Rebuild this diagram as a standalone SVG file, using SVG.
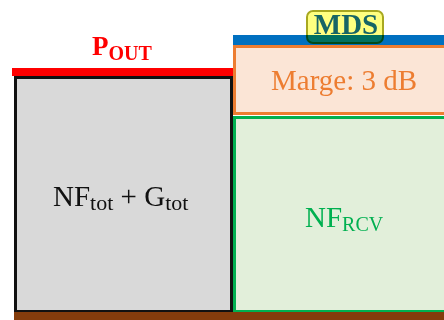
<svg xmlns="http://www.w3.org/2000/svg" width="444" height="320" viewBox="0 0 444 320">
<style>
.bar{stroke:none;}
.hl{mix-blend-mode:multiply;}
</style>
<rect width="444" height="320" fill="#ffffff"/>
<g font-family="Liberation Serif">
<g id="pout">
<rect class="bar" x="12" y="68" width="222" height="8" fill="#FF0000"/>
<text x="92" y="55" fill="#FF0000" font-size="27" font-weight="bold">P<tspan font-size="20" dy="5">OUT</tspan></text>
</g>
<g id="chain">
<rect x="15.5" y="77.5" width="216" height="234" fill="#D9D9D9" stroke="#111111" stroke-width="3"/>
<text x="53" y="206" fill="#111111" font-size="29">NF<tspan font-size="22" dy="4">tot</tspan><tspan dy="-4"> + G</tspan><tspan font-size="22" dy="4">tot</tspan></text>
</g>
<g id="mds">
<rect class="bar" x="233" y="35" width="211" height="10" fill="#0070C0"/>
<rect class="hl" x="307" y="11" width="76" height="32" rx="6" fill="#FFFF80" stroke="#A8A820" stroke-width="2"/>
<text x="346" y="34" text-anchor="middle" fill="#176565" font-size="29" font-weight="bold">MDS</text>
</g>
<g id="marge">
<rect x="234.5" y="46.5" width="212" height="67" fill="#FBE5D6" stroke="#ED7D31" stroke-width="3"/>
<text x="344" y="90" text-anchor="middle" fill="#ED7D31" font-size="29">Marge: 3 dB</text>
</g>
<g id="rcv">
<rect x="234.5" y="117.5" width="212" height="194" fill="#E2EFDA" stroke="#00B050" stroke-width="3"/>
<text x="305" y="227" fill="#00B050" font-size="29">NF<tspan font-size="20" dy="4">RCV</tspan></text>
</g>
<g id="ground">
<rect class="bar" x="14" y="312" width="430" height="8" fill="#843C0C"/>
</g>
</g>
</svg>
